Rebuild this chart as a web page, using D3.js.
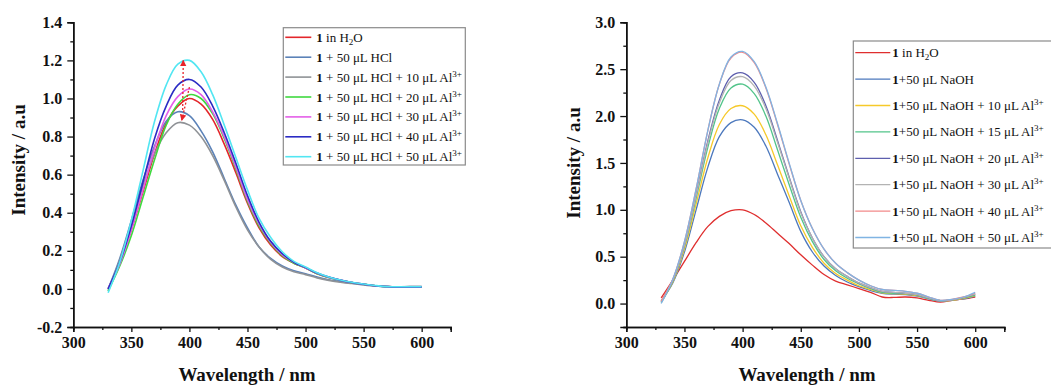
<!DOCTYPE html>
<html>
<head>
<meta charset="utf-8">
<script src="https://cdn.jsdelivr.net/npm/d3@7"></script>
<style>
  body { margin: 0; background: #fff; }
  svg { display: block; font-family: "Liberation Serif", "Times New Roman", serif; }
</style>
</head>
<body>
<svg id="chart" width="1051" height="385"></svg>
<script>
// wavelength grid shared by all spectra (nm)
const wavelengths = [330, 340, 350, 360, 370, 380, 390, 400, 410, 420, 430, 440, 450, 460,
  470, 480, 490, 500, 510, 520, 530, 540, 550, 560, 570, 580, 590, 600];

// ---- left panel: HCl titration ----
const leftLabels = [
  "1 in H2O",
  "1 + 50 μL HCl",
  "1 + 50 μL HCl + 10 μL Al3+",
  "1 + 50 μL HCl + 20 μL Al3+",
  "1 + 50 μL HCl + 30 μL Al3+",
  "1 + 50 μL HCl + 40 μL Al3+",
  "1 + 50 μL HCl + 50 μL Al3+"
];
const leftColors = ["#e3262b", "#5b82b8", "#8f9296", "#3fd93f", "#e45ee8", "#2b2bc4", "#52e6f2"];

const leftH2O = [0.00, 0.14, 0.31, 0.51, 0.71, 0.87, 0.96, 1.00, 0.97, 0.89, 0.76, 0.61, 0.45, 0.32,
  0.23, 0.17, 0.135, 0.11, 0.08, 0.06, 0.045, 0.033, 0.025, 0.017, 0.012, 0.01, 0.01, 0.01];
const leftHCl = [0.00, 0.16, 0.36, 0.57, 0.75, 0.88, 0.93, 0.91, 0.83, 0.72, 0.58, 0.44, 0.32, 0.22,
  0.16, 0.12, 0.095, 0.08, 0.062, 0.048, 0.038, 0.03, 0.023, 0.016, 0.012, 0.011, 0.012, 0.012];
const leftAl10 = [-0.01, 0.15, 0.34, 0.54, 0.71, 0.82, 0.873, 0.86, 0.80, 0.70, 0.57, 0.43, 0.31, 0.22,
  0.155, 0.115, 0.09, 0.075, 0.058, 0.045, 0.035, 0.028, 0.021, 0.015, 0.011, 0.011, 0.012, 0.013];
const leftAl20 = [-0.01, 0.12, 0.28, 0.48, 0.68, 0.86, 0.97, 1.02, 1.00, 0.92, 0.79, 0.63, 0.46, 0.33,
  0.24, 0.175, 0.135, 0.11, 0.08, 0.06, 0.045, 0.033, 0.025, 0.017, 0.012, 0.01, 0.01, 0.01];
const leftAl30 = [0.00, 0.13, 0.31, 0.52, 0.74, 0.91, 1.01, 1.05, 1.02, 0.93, 0.80, 0.64, 0.47, 0.34,
  0.245, 0.18, 0.14, 0.11, 0.082, 0.061, 0.046, 0.034, 0.025, 0.017, 0.012, 0.01, 0.01, 0.01];
const leftAl40 = [0.00, 0.14, 0.33, 0.56, 0.79, 0.96, 1.07, 1.10, 1.06, 0.96, 0.82, 0.66, 0.49, 0.35,
  0.25, 0.185, 0.14, 0.112, 0.083, 0.062, 0.046, 0.034, 0.025, 0.017, 0.012, 0.01, 0.01, 0.01];
const leftAl50 = [-0.02, 0.14, 0.36, 0.62, 0.88, 1.07, 1.18, 1.20, 1.14, 1.02, 0.86, 0.69, 0.52, 0.37,
  0.27, 0.195, 0.145, 0.115, 0.085, 0.063, 0.047, 0.035, 0.026, 0.018, 0.012, 0.011, 0.011, 0.011];
const leftSeries = [leftH2O, leftHCl, leftAl10, leftAl20, leftAl30, leftAl40, leftAl50];

// red dotted arrows on the left panel [wavelength, intensity]
const arrowUp = [[394.2, 0.94], [394.7, 1.20]];
const arrowDown = [[400, 1.06], [393.4, 0.885]];

// ---- right panel: NaOH titration ----
const rightLabels = [
  "1 in H2O",
  "1+50 μL NaOH",
  "1+50 μL NaOH + 10 μL Al3+",
  "1+50 μL NaOH + 15 μL Al3+",
  "1+50 μL NaOH + 20 μL Al3+",
  "1+50 μL NaOH + 30 μL Al3+",
  "1+50 μL NaOH + 40 μL Al3+",
  "1+50 μL NaOH + 50 μL Al3+"
];
const rightColors = ["#df2e2e", "#4c78bd", "#f6c92a", "#52c48a", "#5e5fae", "#b3b3b3", "#f28a8a", "#80b4e3"];

const rightH2O = [0.06, 0.25, 0.45, 0.65, 0.82, 0.93, 0.99, 1.00, 0.95, 0.86, 0.75, 0.64, 0.52, 0.41,
  0.31, 0.24, 0.20, 0.16, 0.12, 0.07, 0.065, 0.07, 0.06, 0.035, 0.015, 0.035, 0.05, 0.07];
const rightNaOH = [0.03, 0.22, 0.55, 1.00, 1.45, 1.78, 1.93, 1.96, 1.88, 1.68, 1.38, 1.08, 0.77, 0.55,
  0.40, 0.30, 0.23, 0.18, 0.14, 0.11, 0.10, 0.095, 0.08, 0.05, 0.025, 0.035, 0.05, 0.08];
const rightAl10 = [0.02, 0.23, 0.58, 1.06, 1.55, 1.91, 2.08, 2.11, 2.02, 1.80, 1.48, 1.15, 0.83, 0.60,
  0.43, 0.32, 0.25, 0.19, 0.15, 0.115, 0.105, 0.10, 0.085, 0.055, 0.03, 0.035, 0.055, 0.085];
const rightAl15 = [0.01, 0.24, 0.61, 1.12, 1.66, 2.08, 2.30, 2.34, 2.24, 2.00, 1.64, 1.27, 0.92, 0.66,
  0.47, 0.35, 0.27, 0.21, 0.16, 0.12, 0.11, 0.105, 0.09, 0.055, 0.03, 0.04, 0.06, 0.09];
const rightAl20 = [0.02, 0.25, 0.63, 1.16, 1.73, 2.17, 2.42, 2.46, 2.36, 2.11, 1.74, 1.35, 0.98, 0.70,
  0.50, 0.37, 0.29, 0.22, 0.17, 0.13, 0.12, 0.11, 0.095, 0.06, 0.03, 0.04, 0.065, 0.10];
const rightAl30 = [0.02, 0.25, 0.62, 1.15, 1.71, 2.14, 2.38, 2.42, 2.32, 2.08, 1.72, 1.34, 0.97, 0.70,
  0.50, 0.37, 0.29, 0.22, 0.17, 0.13, 0.12, 0.11, 0.095, 0.06, 0.03, 0.04, 0.065, 0.10];
const rightAl40 = [0.03, 0.26, 0.66, 1.22, 1.84, 2.34, 2.62, 2.68, 2.57, 2.30, 1.91, 1.49, 1.10, 0.80,
  0.58, 0.43, 0.33, 0.25, 0.19, 0.15, 0.14, 0.13, 0.11, 0.07, 0.035, 0.045, 0.07, 0.11];
const rightAl50 = [0.00, 0.26, 0.66, 1.22, 1.84, 2.34, 2.63, 2.69, 2.58, 2.31, 1.92, 1.50, 1.10, 0.80,
  0.58, 0.43, 0.33, 0.25, 0.19, 0.15, 0.14, 0.13, 0.11, 0.07, 0.035, 0.045, 0.07, 0.12];
const rightSeries = [rightH2O, rightNaOH, rightAl10, rightAl15, rightAl20, rightAl30, rightAl40, rightAl50];

// axis ticks
const xTicks = [300, 350, 400, 450, 500, 550, 600];
const xMinorTicks = [325, 375, 425, 475, 525, 575, 625];
const leftYTicks = [-0.2, 0.0, 0.2, 0.4, 0.6, 0.8, 1.0, 1.2, 1.4];
const leftYMinor = [-0.1, 0.1, 0.3, 0.5, 0.7, 0.9, 1.1, 1.3];
const rightYTicks = [0.0, 0.5, 1.0, 1.5, 2.0, 2.5, 3.0];
const rightYMinor = [-0.25, 0.25, 0.75, 1.25, 1.75, 2.25, 2.75];

const svg = d3.select("#chart");

const defs = svg.append("defs");
defs.append("marker")
  .attr("id", "redHead")
  .attr("viewBox", "0 0 10 10")
  .attr("refX", 9)
  .attr("refY", 5)
  .attr("markerWidth", 5)
  .attr("markerHeight", 6)
  .attr("orient", "auto")
  .append("path")
  .attr("d", "M0,0 L10,5 L0,10 Z")
  .attr("fill", "#e8232a");

function addLabel(text, label, small) {
  text.append("tspan").attr("font-weight", "bold").text(label[0]);
  const parts = label.slice(1).split(/(H2O|Al3\+)/);
  let shifted = 0;
  parts.forEach(p => {
    if (!p) return;
    if (p === "H2O") {
      text.append("tspan").attr("dy", -shifted).text("H");
      text.append("tspan").attr("dy", 3).attr("font-size", small).text("2");
      text.append("tspan").attr("dy", -3).text("O");
      shifted = 0;
    } else if (p === "Al3+") {
      text.append("tspan").attr("dy", -shifted).text("Al");
      text.append("tspan").attr("dy", -5).attr("font-size", small).text("3+");
      shifted = -5;
    } else {
      text.append("tspan").attr("dy", -shifted).text(p);
      shifted = 0;
    }
  });
}

function drawPanel(cfg) {
  const x = d3.scaleLinear().domain([300, 625]).range(cfg.xRange);
  const y = d3.scaleLinear().domain(cfg.yDomain).range([327, 22.3]);
  const g = svg.append("g");

  // spectra
  const line = d3.line()
    .x((d, i) => x(wavelengths[i]))
    .y(d => y(d))
    .curve(d3.curveCatmullRom);

  cfg.series.forEach((s, i) => {
    g.append("path")
      .datum(s)
      .attr("fill", "none")
      .attr("stroke", cfg.colors[i])
      .attr("stroke-width", cfg.lineWidth)
      .attr("d", line);
  });

  // axes
  g.append("g")
    .attr("transform", "translate(0,327)")
    .call(d3.axisBottom(x).tickValues(xTicks).tickSize(5).tickPadding(5)
      .tickFormat(d3.format("d")));
  g.append("g")
    .attr("transform", "translate(0,327)")
    .call(d3.axisBottom(x).tickValues(xMinorTicks).tickSize(3).tickFormat(""));

  g.append("g")
    .attr("transform", `translate(${cfg.xRange[0]},0)`)
    .call(d3.axisLeft(y).tickValues(cfg.yTicks).tickSize(6).tickPadding(5)
      .tickFormat(d => d.toFixed(1)));
  g.append("g")
    .attr("transform", `translate(${cfg.xRange[0]},0)`)
    .call(d3.axisLeft(y).tickValues(cfg.yMinor).tickSize(3).tickFormat(""));

  g.selectAll(".domain").attr("stroke", "#111").attr("stroke-width", 1.5);
  g.selectAll(".tick line").attr("stroke", "#111").attr("stroke-width", 1.3);
  g.selectAll(".tick text")
    .attr("fill", "#111")
    .style("font-family", "'Liberation Serif', serif")
    .style("font-weight", "bold")
    .style("font-size", "16px");

  g.append("text")
    .attr("x", cfg.xTitleX)
    .attr("y", 381)
    .attr("text-anchor", "middle")
    .style("font-weight", "bold")
    .style("font-size", "19px")
    .attr("fill", "#111")
    .text("Wavelength / nm");

  g.append("text")
    .attr("transform", `translate(${cfg.yTitleX},${cfg.yTitleY}) rotate(-90)`)
    .attr("text-anchor", "middle")
    .attr("dy", "0.35em")
    .style("font-weight", "bold")
    .style("font-size", "19px")
    .attr("fill", "#111")
    .text("Intensity / a.u");

  // legend
  const lg = cfg.legend;
  g.append("rect")
    .attr("x", lg.x)
    .attr("y", lg.y)
    .attr("width", lg.w)
    .attr("height", lg.h)
    .attr("fill", "#fff")
    .attr("stroke", "#8a8a8a")
    .attr("stroke-width", 1.2);

  cfg.labels.forEach((label, i) => {
    const ry = lg.firstRow + i * lg.step;
    g.append("line")
      .attr("x1", lg.x + 2)
      .attr("x2", lg.x + 2 + lg.sample)
      .attr("y1", ry)
      .attr("y2", ry)
      .attr("stroke", cfg.colors[i])
      .attr("stroke-width", cfg.lineWidth);
    const t = g.append("text")
      .attr("x", lg.x + lg.sample + lg.gap)
      .attr("y", ry + 4.5)
      .attr("fill", "#111")
      .style("font-size", lg.font + "px");
    addLabel(t, label, lg.font * 0.7);
  });

  return { x, y, g };
}

const left = drawPanel({
  xRange: [73.3, 450.7],
  yDomain: [-0.2, 1.4],
  yTicks: leftYTicks,
  yMinor: leftYMinor,
  series: leftSeries,
  colors: leftColors,
  labels: leftLabels,
  lineWidth: 1.6,
  xTitleX: 247,
  yTitleX: 18,
  yTitleY: 160,
  legend: { x: 283.3, y: 27.7, w: 182, h: 137.3, firstRow: 37.3, step: 19.9, sample: 26, gap: 7, font: 13 }
});

const arrowLine = d3.line().x(d => left.x(d[0])).y(d => left.y(d[1]));
[arrowUp, arrowDown].forEach(a => {
  left.g.append("path")
    .datum(a)
    .attr("fill", "none")
    .attr("stroke", "#e8232a")
    .attr("stroke-width", 1.3)
    .attr("stroke-dasharray", "2 2")
    .attr("marker-end", "url(#redHead)")
    .attr("d", arrowLine);
});

drawPanel({
  xRange: [626.3, 1004.3],
  yDomain: [-0.25, 3.0],
  yTicks: rightYTicks,
  yMinor: rightYMinor,
  series: rightSeries,
  colors: rightColors,
  labels: rightLabels,
  lineWidth: 1.3,
  xTitleX: 807,
  yTitleX: 573,
  yTitleY: 163,
  legend: { x: 853.3, y: 41, w: 220, h: 207, firstRow: 52.7, step: 26.4, sample: 35, gap: 4, font: 13 }
});
</script>
</body>
</html>
